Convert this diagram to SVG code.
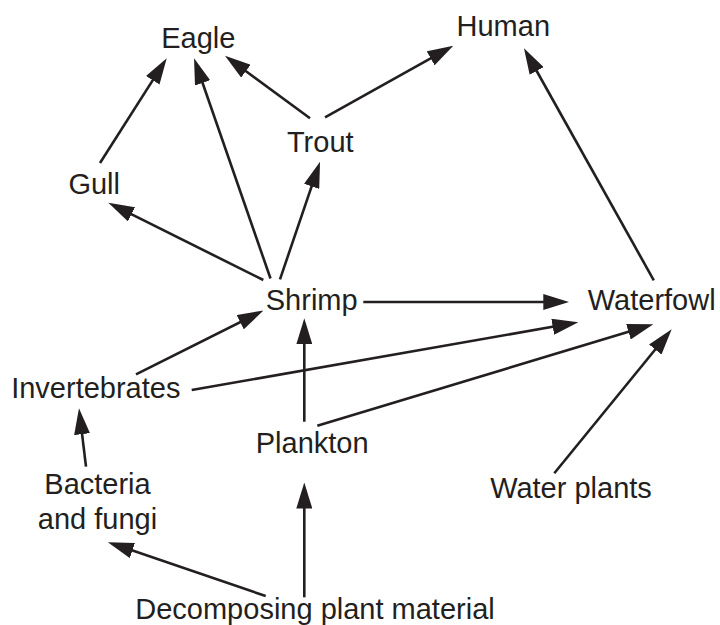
<svg xmlns="http://www.w3.org/2000/svg" width="720" height="625" viewBox="0 0 720 625">
<style>
text{font-family:"Liberation Sans",Arial,sans-serif;font-size:29px;fill:#231f20;text-anchor:middle}
.c line{stroke:#231f20;stroke-width:2.6;marker-end:url(#ah)}
</style>
<defs>
<marker id="ah" markerUnits="userSpaceOnUse" viewBox="0 0 26 16" refX="20" refY="8" markerWidth="26" markerHeight="16" orient="auto">
<path d="M0,0 L26,8 L0,16 z" fill="#231f20"/>
</marker>
</defs>
<rect width="720" height="625" fill="#fff"/>
<g class="c" id="connectors">
<line x1="100" y1="163" x2="163.5" y2="63.4"/>
<line x1="270.5" y1="278.5" x2="196" y2="64"/>
<line x1="310" y1="118.3" x2="229.8" y2="59.3"/>
<line x1="325" y1="117.3" x2="448.1" y2="48.6"/>
<line x1="280" y1="279.3" x2="318.1" y2="167.4"/>
<line x1="263.3" y1="280" x2="113.7" y2="205.4"/>
<line x1="363.3" y1="302" x2="563.3" y2="302"/>
<line x1="136" y1="374.3" x2="258.1" y2="313.2"/>
<line x1="191.7" y1="390" x2="572.4" y2="323.3"/>
<line x1="304.3" y1="421.7" x2="304.3" y2="324.3"/>
<line x1="317.3" y1="425.7" x2="647.6" y2="326"/>
<line x1="554.3" y1="473.3" x2="667.9" y2="334"/>
<line x1="653.8" y1="280.3" x2="526.9" y2="53.5"/>
<line x1="86" y1="466.7" x2="79.7" y2="414.3"/>
<line x1="265.7" y1="596" x2="113.5" y2="544.1"/>
<line x1="304.3" y1="597.3" x2="304.3" y2="488.5"/>
</g>
<g id="eagle"><text x="198.3" y="48.3">Eagle</text></g>
<g id="human"><text x="503.3" y="36">Human</text></g>
<g id="trout"><text x="320.3" y="152.3">Trout</text></g>
<g id="gull"><text x="94.2" y="194.3">Gull</text></g>
<g id="shrimp"><text x="311.7" y="310">Shrimp</text></g>
<g id="waterfowl"><text x="651.7" y="310">Waterfowl</text></g>
<g id="invertebrates"><text x="95.8" y="397.7">Invertebrates</text></g>
<g id="plankton"><text x="312.2" y="453.3">Plankton</text></g>
<g id="bacteria"><text x="97.5" y="494.3">Bacteria</text><text x="97.5" y="529.3">and fungi</text></g>
<g id="waterplants"><text x="571" y="498.3">Water plants</text></g>
<g id="decomposing"><text x="315" y="619">Decomposing plant material</text></g>
</svg>
